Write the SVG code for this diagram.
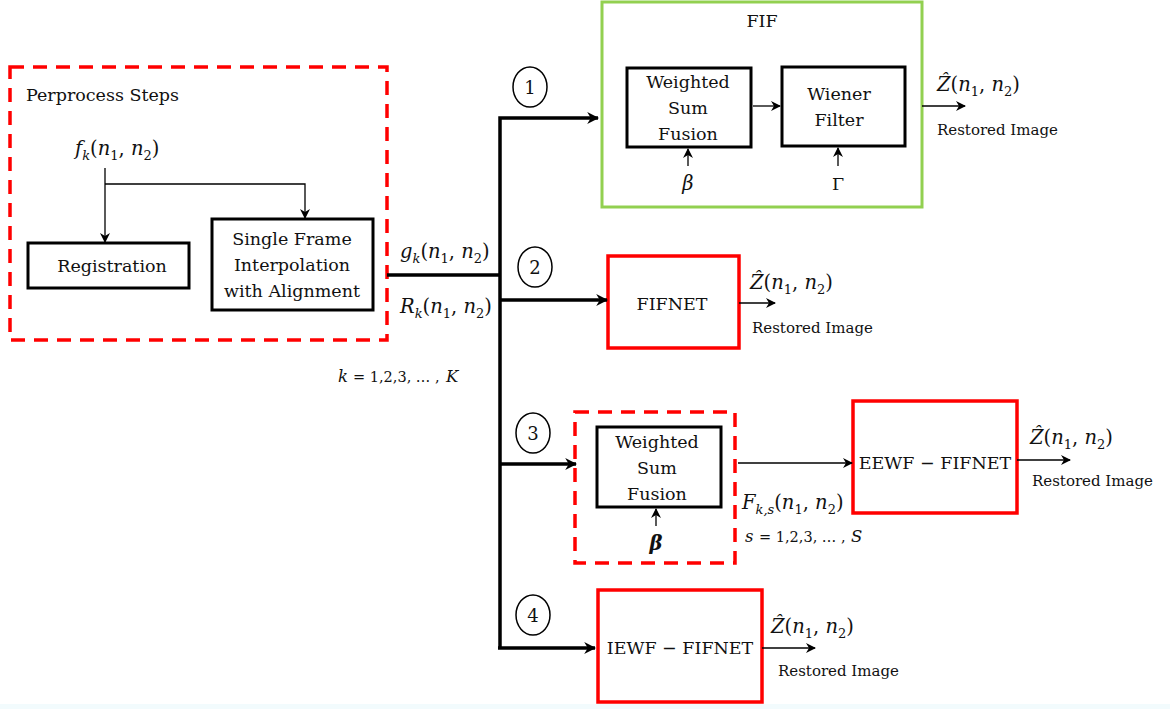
<svg xmlns="http://www.w3.org/2000/svg" width="1170" height="709" viewBox="0 0 1170 709">
<defs>
<marker id="ah" viewBox="0 0 10 10" refX="9" refY="5" markerWidth="10" markerHeight="10" markerUnits="userSpaceOnUse" orient="auto"><path d="M0,0 L10,5 L0,10 L3,5 z" fill="#000"/></marker>
<marker id="ahb" viewBox="0 0 10 10" refX="9" refY="5" markerWidth="12" markerHeight="12" markerUnits="userSpaceOnUse" orient="auto"><path d="M0,0 L10,5 L0,10 L3,5 z" fill="#000"/></marker>
</defs>
<style>
text{font-family:"DejaVu Serif","Liberation Serif",serif;fill:#111;}
.t{font-size:17.5px;}
.s{font-size:15px;}
.m{font-size:19.5px;font-style:italic;}
.sub{font-size:13px;}
.blk{fill:#fff;stroke:#000;stroke-width:3;}
.red{fill:#fff;stroke:#ff0000;stroke-width:3.5;}
.reddash{fill:none;stroke:#ff0000;stroke-width:3.5;stroke-dasharray:14,9;}
.thin{fill:none;stroke:#000;stroke-width:1.3;}
.thick{fill:none;stroke:#000;stroke-width:3.5;}
.circ{fill:#fff;stroke:#000;stroke-width:1.5;}
.num{font-size:18px;}
.idx{font-size:16.5px;font-style:italic;}
.idn{font-size:14.5px;}
</style>
<rect x="0" y="0" width="1170" height="709" fill="#fff"/>
<rect x="0" y="704" width="1170" height="5" fill="#f2fbfd"/>

<g id="preprocess">
<rect x="10" y="67" width="377" height="273" class="reddash"/>
<text class="t" x="26" y="101">Perprocess Steps</text>
<text class="m" x="75" y="155">f<tspan class="sub" dy="5">k</tspan><tspan dy="-5" font-style="normal">(</tspan>n<tspan class="sub" dy="5" font-style="normal">1</tspan><tspan dy="-5" font-style="normal">, </tspan>n<tspan class="sub" dy="5" font-style="normal">2</tspan><tspan dy="-5" font-style="normal">)</tspan></text>
</g>
<g id="registration">
<rect x="28" y="243" width="161" height="45" class="blk"/>
<text class="t" x="112" y="272" text-anchor="middle">Registration</text>
</g>
<g id="interp">
<rect x="212" y="219" width="161" height="91" class="blk"/>
<text class="t" x="292" y="245" text-anchor="middle">Single Frame</text>
<text class="t" x="292" y="271" text-anchor="middle">Interpolation</text>
<text class="t" x="292" y="297" text-anchor="middle">with Alignment</text>
</g>

<g id="fif">
<rect x="602" y="2" width="320" height="205" fill="#fff" stroke="#92d050" stroke-width="3"/>
<text class="t" x="762" y="27" text-anchor="middle">FIF</text>
</g>
<g id="wsf1">
<rect x="627" y="68" width="124" height="79" class="blk"/>
<text class="t" x="688" y="88" text-anchor="middle">Weighted</text>
<text class="t" x="688" y="114" text-anchor="middle">Sum</text>
<text class="t" x="688" y="140" text-anchor="middle">Fusion</text>
<text class="m" x="688" y="190" text-anchor="middle">β</text>
</g>
<g id="wiener">
<rect x="782" y="67" width="123" height="79" class="blk"/>
<text class="t" x="839" y="100" text-anchor="middle">Wiener</text>
<text class="t" x="839" y="126" text-anchor="middle">Filter</text>
<text class="t" x="838" y="190" text-anchor="middle">Γ</text>
</g>
<g id="out1">
<text class="m" x="937" y="91">Ẑ<tspan font-style="normal">(</tspan>n<tspan class="sub" dy="5" font-style="normal">1</tspan><tspan dy="-5" font-style="normal">, </tspan>n<tspan class="sub" dy="5" font-style="normal">2</tspan><tspan dy="-5" font-style="normal">)</tspan></text>
<text class="s" x="937" y="135">Restored Image</text>
</g>

<g id="fifnet">
<rect x="608" y="256" width="131" height="92" class="red"/>
<text class="t" x="672" y="310" text-anchor="middle">FIFNET</text>
</g>
<g id="out2">
<text class="m" x="750" y="289">Ẑ<tspan font-style="normal">(</tspan>n<tspan class="sub" dy="5" font-style="normal">1</tspan><tspan dy="-5" font-style="normal">, </tspan>n<tspan class="sub" dy="5" font-style="normal">2</tspan><tspan dy="-5" font-style="normal">)</tspan></text>
<text class="s" x="752" y="333">Restored Image</text>
</g>

<g id="ewf-group">
<rect x="575" y="412" width="160" height="151" class="reddash"/>
</g>
<g id="wsf2">
<rect x="597" y="427" width="124" height="80" class="blk"/>
<text class="t" x="657" y="448" text-anchor="middle">Weighted</text>
<text class="t" x="657" y="474" text-anchor="middle">Sum</text>
<text class="t" x="657" y="500" text-anchor="middle">Fusion</text>
<text class="m" x="656" y="550" text-anchor="middle" font-weight="bold">β</text>
</g>
<g id="eewf">
<rect x="853" y="401" width="164" height="112" class="red"/>
<text class="t" x="935" y="469" text-anchor="middle">EEWF − FIFNET</text>
</g>
<g id="out3">
<text class="m" x="742" y="509">F<tspan class="sub" dy="5">k,s</tspan><tspan dy="-5" font-style="normal">(</tspan>n<tspan class="sub" dy="5" font-style="normal">1</tspan><tspan dy="-5" font-style="normal">, </tspan>n<tspan class="sub" dy="5" font-style="normal">2</tspan><tspan dy="-5" font-style="normal">)</tspan></text>
<text class="idx" x="745" y="542">s</text>
<text class="idn" x="759" y="542">= 1,2,3, … ,</text>
<text class="idx" x="851" y="542">S</text>
<text class="m" x="1030" y="444">Ẑ<tspan font-style="normal">(</tspan>n<tspan class="sub" dy="5" font-style="normal">1</tspan><tspan dy="-5" font-style="normal">, </tspan>n<tspan class="sub" dy="5" font-style="normal">2</tspan><tspan dy="-5" font-style="normal">)</tspan></text>
<text class="s" x="1032" y="486">Restored Image</text>
</g>

<g id="iewf">
<rect x="598" y="590" width="164" height="112" class="red"/>
<text class="t" x="680" y="654" text-anchor="middle">IEWF − FIFNET</text>
</g>
<g id="out4">
<text class="m" x="771" y="633">Ẑ<tspan font-style="normal">(</tspan>n<tspan class="sub" dy="5" font-style="normal">1</tspan><tspan dy="-5" font-style="normal">, </tspan>n<tspan class="sub" dy="5" font-style="normal">2</tspan><tspan dy="-5" font-style="normal">)</tspan></text>
<text class="s" x="778" y="676">Restored Image</text>
</g>

<g id="labels">
<text class="m" x="400" y="258">g<tspan class="sub" dy="5">k</tspan><tspan dy="-5" font-style="normal">(</tspan>n<tspan class="sub" dy="5" font-style="normal">1</tspan><tspan dy="-5" font-style="normal">, </tspan>n<tspan class="sub" dy="5" font-style="normal">2</tspan><tspan dy="-5" font-style="normal">)</tspan></text>
<text class="m" x="400" y="313">R<tspan class="sub" dy="5">k</tspan><tspan dy="-5" font-style="normal">(</tspan>n<tspan class="sub" dy="5" font-style="normal">1</tspan><tspan dy="-5" font-style="normal">, </tspan>n<tspan class="sub" dy="5" font-style="normal">2</tspan><tspan dy="-5" font-style="normal">)</tspan></text>
<text class="idx" x="338" y="382">k</text>
<text class="idn" x="353" y="382">= 1,2,3, … ,</text>
<text class="idx" x="446" y="382">K</text>
</g>

<g id="circles">
<ellipse cx="530" cy="87" rx="17" ry="20" class="circ"/>
<text class="num" x="530" y="94" text-anchor="middle">1</text>
<ellipse cx="535" cy="267" rx="17" ry="20" class="circ"/>
<text class="num" x="535" y="274" text-anchor="middle">2</text>
<ellipse cx="533" cy="433" rx="17" ry="20" class="circ"/>
<text class="num" x="533" y="440" text-anchor="middle">3</text>
<ellipse cx="533" cy="615" rx="17" ry="20" class="circ"/>
<text class="num" x="533" y="622" text-anchor="middle">4</text>
</g>

<g id="connectors">
<path d="M105,168 V242" class="thin" marker-end="url(#ah)"/>
<path d="M105,184 H305 V218" class="thin" marker-end="url(#ah)"/>
<path d="M387,275 H500" class="thick"/>
<path d="M500,648 V118 H598" class="thick" marker-end="url(#ahb)"/>
<path d="M500,300 H607" class="thick" marker-end="url(#ahb)"/>
<path d="M500,464 H576" class="thick" marker-end="url(#ahb)"/>
<path d="M498,648 H595" class="thick" marker-end="url(#ahb)"/>
<path d="M753,106 H780" class="thin" marker-end="url(#ah)"/>
<path d="M688,166 V149" class="thin" marker-end="url(#ah)"/>
<path d="M838,166 V148" class="thin" marker-end="url(#ah)"/>
<path d="M922,106 H965" class="thin" marker-end="url(#ah)"/>
<path d="M739,303 H775" class="thin" marker-end="url(#ah)"/>
<path d="M656,526 V509" class="thin" marker-end="url(#ah)"/>
<path d="M738,463 H852" class="thin" marker-end="url(#ah)"/>
<path d="M1017,460 H1070" class="thin" marker-end="url(#ah)"/>
<path d="M762,648 H815" class="thin" marker-end="url(#ah)"/>
</g>
</svg>
